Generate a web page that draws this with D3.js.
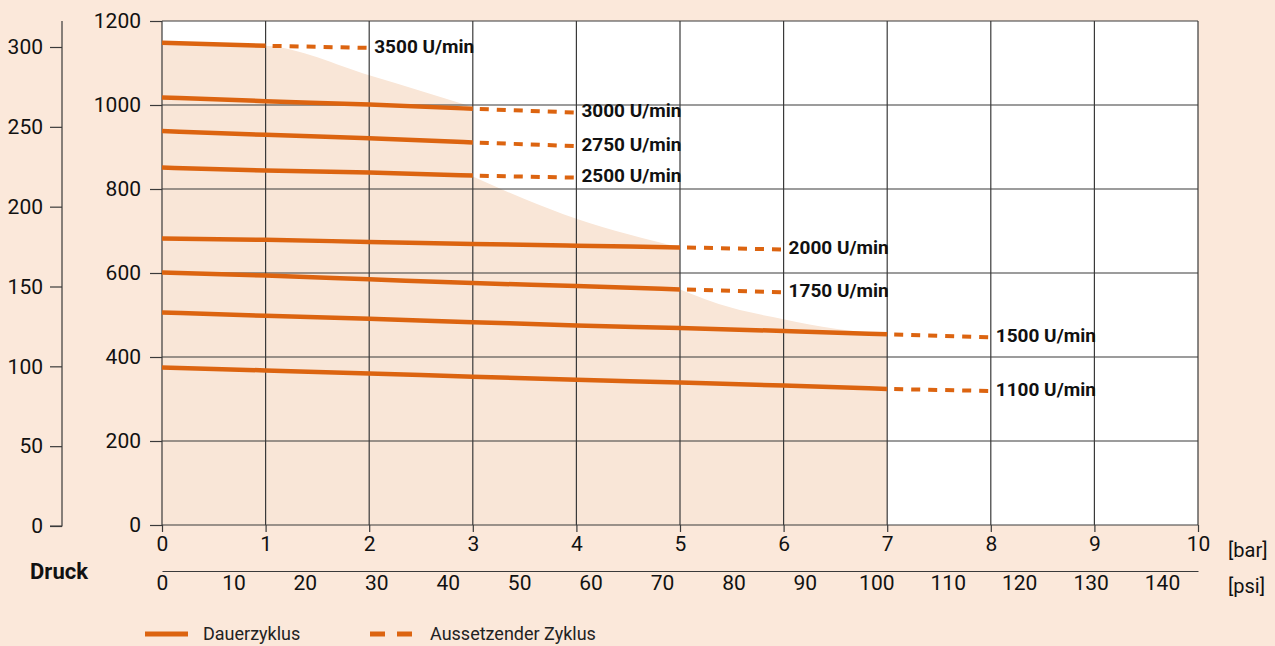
<!DOCTYPE html>
<html>
<head>
<meta charset="utf-8">
<style>
    body { margin: 0; background: #fbe8da; }
    svg { display: block; background: #fbe8da; }
    text { font-family: "Liberation Sans Narrow", "Arial Narrow", "Roboto", sans-serif; fill: #111; }
    .tick text { font-size: 21px; }
    .lbl { font-size: 19px; font-weight: bold; }
    .grid line { stroke: #3a3a3a; stroke-width: 1.2; }
</style>
</head>
<body>
<script src="https://cdn.jsdelivr.net/npm/d3@7"></script>
<script>

const width = 1275;
const height = 646;

// data
const rpm = [3500, 3000, 2750, 2500, 2000, 1750, 1500, 1100];
// continuous cycle, value at 0,1,2... bar
const continuous = [
    [1148, 1141],
    [1018, 1009, 1001, 991],
    [938, 929, 921, 911],
    [851, 844, 839, 832],
    [682, 679, 674, 669, 665, 661],
    [601, 594, 585, 576, 569, 561],
    [506, 498, 491, 483, 475, 469, 462, 454],
    [375, 368, 361, 353, 346, 339, 332, 324]
];
// intermittent cycle, value one bar further
const intermittent = [1136, 982, 902, 827, 656, 554, 447, 319];

// shaded continuous-operation envelope, three curved pieces
const envBar = [[0, 1, 2, 3], [3, 3.5, 4, 4.5, 5], [5, 5.5, 6, 6.5, 7]];
const envVal = [[1148, 1141, 1071, 995], [830, 776, 729, 692, 661], [561, 517, 490, 467, 454]];

const barTicks = [0, 1, 2, 3, 4, 5, 6, 7, 8, 9, 10];
const psiTicks = [0, 10, 20, 30, 40, 50, 60, 70, 80, 90, 100, 110, 120, 130, 140];
const flowTicks = [0, 200, 400, 600, 800, 1000, 1200];
const leftTicks = [0, 50, 100, 150, 200, 250, 300];

const orange = '#dc6410';

const svg = d3.select('body').append('svg')
    .attr('width', width)
    .attr('height', height);

const x = d3.scaleLinear().domain([0, 10]).range([162, 1198]);
const xPsi = d3.scaleLinear().domain([0, 10 * 14.5038]).range([162, 1198]);
const y = d3.scaleLinear().domain([0, 1200]).range([525, 21]);
const yLeft = d3.scaleLinear().domain([0, 300]).range([526, 47]);

// plot background
svg.append('rect')
    .attr('x', x(0)).attr('y', y(1200))
    .attr('width', x(10) - x(0)).attr('height', y(0) - y(1200))
    .attr('fill', '#fff');

// envelope
const envLine = d3.line().x(d => x(d[0])).y(d => y(d[1])).curve(d3.curveMonotoneX);
let envPath = '';
envBar.forEach((bars, s) => {
    const p = envLine(bars.map((b, i) => [b, envVal[s][i]]));
    envPath += s === 0 ? p : 'L' + p.slice(1);
});
envPath += `L${x(7)},${y(0)}L${x(0)},${y(0)}Z`;
svg.append('path')
    .attr('d', envPath)
    .attr('fill', '#f9e6d7');

// grid
const grid = svg.append('g').attr('class', 'grid');
grid.selectAll('.v').data(barTicks).join('line')
    .attr('x1', d => x(d)).attr('x2', d => x(d))
    .attr('y1', y(1200)).attr('y2', y(0));
grid.selectAll('.h').data(flowTicks).join('line')
    .attr('x1', x(0)).attr('x2', x(10))
    .attr('y1', d => y(d)).attr('y2', d => y(d));

// axes
const styleAxis = (g) => {
    g.select('.domain').attr('stroke', '#3a3a3a').attr('stroke-width', 1.2);
    g.selectAll('.tick line').attr('stroke', '#3a3a3a').attr('stroke-width', 1.2);
    g.selectAll('.tick text').attr('font-family', null).attr('font-size', null);
};

svg.append('g')
    .attr('transform', `translate(${x(0)},0)`)
    .call(d3.axisLeft(y).tickValues(flowTicks).tickFormat(d3.format('d')).tickSize(12).tickPadding(9).tickSizeOuter(0))
    .call(styleAxis)
    .call(g => g.select('.domain').remove());

svg.append('g')
    .attr('transform', `translate(62,0)`)
    .call(d3.axisLeft(yLeft).tickValues(leftTicks).tickFormat(d3.format('d')).tickSize(12).tickPadding(7).tickSizeOuter(0))
    .call(styleAxis)
    .call(g => g.select('.domain').attr('d', `M0,${y(1200)}V${yLeft(0)}H-12`));

svg.append('g')
    .attr('transform', `translate(0,${y(0)})`)
    .call(d3.axisBottom(x).tickValues(barTicks).tickFormat(d3.format('d')).tickSize(7).tickPadding(4).tickSizeOuter(0))
    .call(styleAxis)
    .call(g => g.select('.domain').remove());

svg.append('g')
    .attr('transform', `translate(0,571)`)
    .call(d3.axisBottom(xPsi).tickValues(psiTicks).tickFormat(d3.format('d')).tickSize(0).tickPadding(4).tickSizeOuter(0))
    .call(styleAxis);

svg.append('text').attr('x', 1228).attr('y', 550).attr('dy', '0.35em')
    .style('font-size', '20px').text('[bar]');
svg.append('text').attr('x', 1228).attr('y', 586).attr('dy', '0.35em')
    .style('font-size', '20px').text('[psi]');
svg.append('text').attr('x', 59).attr('y', 571).attr('dy', '0.35em')
    .attr('text-anchor', 'middle').style('font-size', '22px').style('font-weight', 'bold')
    .text('Druck');

// curves
const solid = d3.line().x((d, i) => x(i)).y(d => y(d)).curve(d3.curveMonotoneX);

rpm.forEach((r, k) => {
    const vals = continuous[k];
    const last = vals.length - 1;
    svg.append('path')
        .attr('d', solid(vals))
        .attr('fill', 'none')
        .attr('stroke', orange)
        .attr('stroke-width', 4.5);
    svg.append('line')
        .attr('x1', x(last)).attr('y1', y(vals[last]))
        .attr('x2', x(last + 1)).attr('y2', y(intermittent[k]))
        .attr('stroke', orange)
        .attr('stroke-width', 4)
        .attr('stroke-dasharray', '0 7 9 8 9 8 9 8 9 8 9 8 9 8');
    svg.append('text')
        .attr('class', 'lbl')
        .attr('x', x(last + 1) + 5)
        .attr('y', y(intermittent[k]) - 2)
        .attr('dy', '0.35em')
        .text(r + ' U/min');
});

// legend
const legend = svg.append('g').attr('transform', 'translate(0,634)');
legend.append('line').attr('x1', 145).attr('x2', 188)
    .attr('stroke', orange).attr('stroke-width', 5);
legend.append('text').attr('x', 203).attr('dy', '0.35em')
    .style('font-size', '18px').style('fill', '#222').text('Dauerzyklus');
legend.append('line').attr('x1', 370).attr('x2', 414)
    .attr('stroke', orange).attr('stroke-width', 5).attr('stroke-dasharray', '15 12');
legend.append('text').attr('x', 430).attr('dy', '0.35em')
    .style('font-size', '18px').style('fill', '#222').text('Aussetzender Zyklus');

</script>
</body>
</html>
